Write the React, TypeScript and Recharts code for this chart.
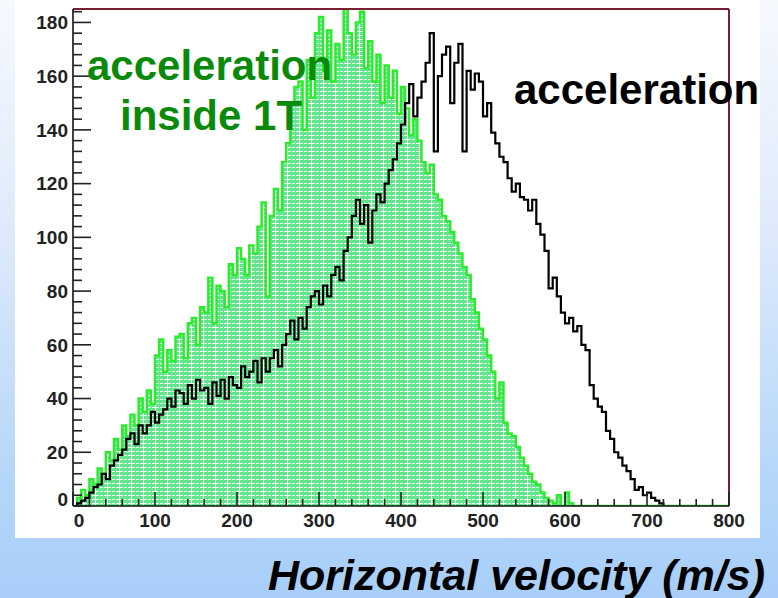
import { ComposedChart, Area, Line, XAxis, YAxis, ReferenceLine } from 'recharts'

const BIN_WIDTH = 5
const X_MAX = 800
const Y_MAX = 185

// counts per 5 m/s bin, starting at 0 m/s
const insideCounts = [
  0, 3, 6, 4, 10, 8, 14, 12, 20, 17, 25, 21, 30, 26, 34, 30, 40, 35, 43, 38,
  56, 62, 50, 58, 54, 63, 64, 55, 68, 70, 60, 74, 72, 85, 68, 82, 80, 74, 90, 86,
  96, 92, 86, 97, 94, 104, 113, 78, 108, 118, 110, 128, 135, 150, 156, 158, 140, 166, 152, 176,
  182, 162, 177, 158, 172, 166, 185, 176, 168, 180, 184, 163, 173, 158, 168, 150, 164, 152, 162, 146,
  156, 148, 138, 144, 136, 128, 124, 127, 116, 114, 108, 106, 102, 98, 94, 89, 86, 77, 72, 66,
  62, 56, 50, 40, 46, 31, 27, 26, 22, 18, 15, 12, 9, 8, 5, 3, 2, 1, 4, 0,
  5, 1, 0,
]

const outsideCounts = [
  0, 1, 2, 3, 5, 7, 8, 12, 10, 15, 17, 19, 21, 25, 27, 23, 30, 27, 30, 35,
  31, 34, 36, 40, 37, 43, 42, 38, 45, 40, 47, 43, 44, 38, 46, 41, 47, 40, 48, 45,
  44, 52, 48, 50, 54, 46, 55, 50, 55, 58, 52, 60, 64, 69, 62, 70, 66, 74, 78, 80,
  75, 82, 78, 86, 89, 84, 95, 100, 108, 114, 105, 112, 98, 110, 116, 113, 120, 125, 129, 135,
  142, 150, 157, 145, 152, 158, 165, 176, 132, 160, 168, 171, 150, 165, 172, 132, 162, 155, 161, 158,
  145, 150, 139, 135, 130, 128, 122, 117, 120, 115, 114, 110, 114, 105, 101, 95, 81, 85, 78, 72,
  68, 70, 65, 67, 60, 58, 45, 40, 37, 35, 28, 25, 20, 18, 15, 13, 10, 6, 7, 4,
  5, 3, 2, 1, 0,
]

const X_TICKS = Array.from({ length: X_MAX / 20 + 1 }, (_, i) => i * 20)
const Y_TICKS = Array.from({ length: 47 }, (_, i) => i * 4)

const data = Array.from({ length: X_MAX / BIN_WIDTH + 1 }, (_, i) => ({
  v: i * BIN_WIDTH,
  inside: insideCounts[i] ?? 0,
  outside: i < outsideCounts.length ? outsideCounts[i] : null,
}))

const FONT = '"Liberation Sans", Arial, Helvetica, sans-serif'
const MAROON = '#7a1f33'

function YTick(props: any) {
  const { x, y, payload } = props
  const v = payload.value
  const major = v % 20 === 0
  const ax = x + 6
  return (
    <g>
      <line x1={ax} x2={ax + (major ? 18 : 9)} y1={y} y2={y} stroke="#222" strokeWidth={1.6} />
      {major && (
        <text
          x={x + 1}
          y={v === 0 ? y - 7 : y}
          dy="0.36em"
          textAnchor="end"
          fontFamily={FONT}
          fontWeight="bold"
          fontSize={19}
          fill="#222"
        >
          {v}
        </text>
      )}
    </g>
  )
}

function XTick(props: any) {
  const { x, y, payload } = props
  const v = payload.value
  const major = v % 100 === 0
  const ay = y - 6
  return (
    <g>
      <line x1={x} x2={x} y1={ay} y2={ay - (major ? 14 : 7)} stroke="#222" strokeWidth={1.6} />
      {major && (
        <text
          x={v === 0 ? x + 6 : x}
          y={y + 15}
          textAnchor="middle"
          fontFamily={FONT}
          fontWeight="bold"
          fontSize={19}
          fill="#222"
        >
          {v}
        </text>
      )}
    </g>
  )
}

export default function App() {
  return (
    <div
      style={{
        position: 'fixed',
        left: 0,
        top: 0,
        width: 778,
        height: 598,
        overflow: 'hidden',
        background: 'linear-gradient(to bottom, #f6f9fe 0%, #dde9fb 40%, #b4d6f9 80%, #a8cef8 100%)',
      }}
    >
      <svg width="0" height="0" style={{ position: 'absolute' }}>
        <defs>
          <pattern id="greenHatch" width="12" height="4" patternUnits="userSpaceOnUse">
            <rect width="12" height="4" fill="#62e68c" />
            <line x1="0" y1="3.5" x2="12" y2="3.5" stroke="#eaffee" strokeWidth="1" strokeDasharray="3 1" />
            <line x1="11.5" y1="0" x2="11.5" y2="4" stroke="#f4fff6" strokeWidth="1" />
          </pattern>
        </defs>
      </svg>
      <div style={{ position: 'absolute', left: 15, top: 0, width: 745, height: 538, background: '#ffffff' }} />
      <div style={{ position: 'absolute', left: 0, top: 0 }}>
        <ComposedChart width={778} height={598} data={data} margin={{ top: 9, right: 49, bottom: 62, left: 13 }}>
          <XAxis
            dataKey="v"
            type="number"
            domain={[0, X_MAX]}
            ticks={X_TICKS}
            interval={0}
            height={30}
            tickSize={0}
            tickMargin={6}
            tickLine={false}
            tick={(p: any) => <XTick {...p} />}
            axisLine={{ stroke: '#111', strokeWidth: 1.6 }}
          />
          <YAxis
            type="number"
            domain={[0, Y_MAX]}
            ticks={Y_TICKS}
            interval={0}
            width={60}
            tickSize={0}
            tickMargin={6}
            tickLine={false}
            tick={(p: any) => <YTick {...p} />}
            axisLine={{ stroke: '#111', strokeWidth: 1.6 }}
            allowDataOverflow
          />
          <Area
            type="stepAfter"
            dataKey="inside"
            stroke="#2aec2a"
            strokeWidth={2.4}
            fill="url(#greenHatch)"
            fillOpacity={1}
            isAnimationActive={false}
            dot={false}
            activeDot={false}
          />
          <Line
            type="stepAfter"
            dataKey="outside"
            stroke="#000000"
            strokeWidth={2.2}
            dot={false}
            activeDot={false}
            isAnimationActive={false}
          />
          <ReferenceLine y={Y_MAX} stroke={MAROON} strokeWidth={2} />
          <ReferenceLine x={X_MAX} stroke={MAROON} strokeWidth={2} />
        </ComposedChart>
      </div>
      <svg width={778} height={598} style={{ position: 'absolute', left: 0, top: 0, pointerEvents: 'none' }}>
        <g fontFamily={FONT} fontWeight="bold" fontSize={42}>
          <text x={87} y={80} fill="#0a8a0a">acceleration</text>
          <text x={120} y={130} fill="#0a8a0a">inside 1T</text>
          <text x={514} y={104} fill="#000000">acceleration</text>
        </g>
        <text x={268} y={590} fontFamily={FONT} fontWeight="bold" fontStyle="italic" fontSize={43} fill="#000000">
          Horizontal velocity (m/s)
        </text>
      </svg>
    </div>
  )
}
